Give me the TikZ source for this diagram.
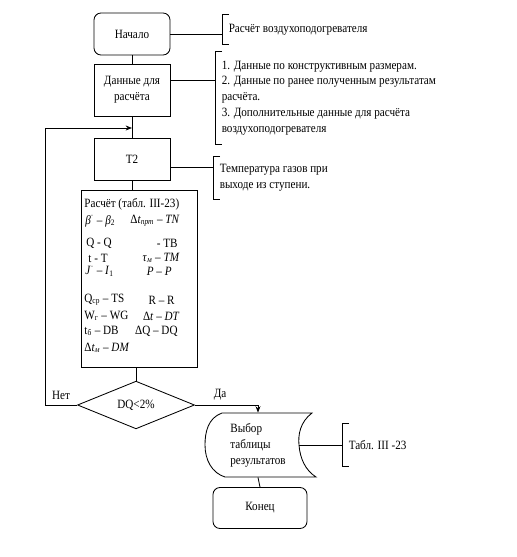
\documentclass[tikz,border=0pt]{standalone}
\usepackage{fontspec}
\setmainfont{Liberation Serif}[FakeStretch=0.88]
\usetikzlibrary{shapes.geometric,arrows.meta}

\begin{document}
\begin{tikzpicture}[x=0.025cm, y=-0.025cm, >={Stealth[length=4.5pt,width=3.5pt]},
  line width=0.6pt, font=\fontsize{9}{11.3}\selectfont,
  startstop/.style={draw, rounded corners=5pt, minimum width=1.9cm, minimum height=1.05cm, align=center},
  block/.style={draw, minimum width=1.9cm, minimum height=1.3cm, align=center},
  decision/.style={draw, diamond, minimum width=2.925cm, minimum height=1cm, inner sep=0pt},
  note/.style={anchor=west, align=left, inner xsep=4.5pt, inner ysep=0pt},
  item/.style={inner sep=0pt}]

  \useasboundingbox (0,0) rectangle (516,557);

  % --- 1. блоки алгоритма ---
  \node[startstop] (start) at (132,34) {Начало};
  \node[block] (data) at (132,90) {Данные для\\расчёта};
  \node[block, minimum height=1.05cm] (t2) at (132,159) {T2};
  \node[draw, minimum width=2.9cm, minimum height=4.425cm] (calc) at (139,278.5) {};
  \node[decision] (dq) at (136,405) {DQ<2\%};
  \node[minimum width=2.75cm, minimum height=1.6cm, align=left] (select) at (258,445)
    {Выбор\\таблицы\\результатов};
  \node[startstop, minimum width=2.35cm, minimum height=1.025cm] (end) at (260,508) {Конец};

  % блок "Выбор" (данные с вогнутой правой стороной)
  \draw (222,413) -- (312,413)
    .. controls (300,422) and (298,435) .. (299,445)
    .. controls (300,458) and (305,470) .. (316,477) -- (225,477)
    .. controls (212,473) and (205,460) .. (205,445)
    .. controls (205,432) and (208,418) .. (222,413);

  % --- 2. содержимое блока расчёта ---
  \node[item, anchor=west] (c0) at (84,204) {Расчёт (табл. III-23)};
  \node[item, anchor=west] (c1l) at (85,221) {\textit{β}\textsuperscript{·} – \textit{β}\textsubscript{2}};
  \node[item, anchor=east] (c1r) at (180,221) {Δ\textit{t}\textsubscript{\textit{прт}} – \textit{TN}};
  \node[item, anchor=west] (c2l) at (86,243) {Q - Q};
  \node[item, anchor=east] (c2r) at (178,243) {- TB};
  \node[item, anchor=west] (c3l) at (88,258) {t - T};
  \node[item, anchor=east] (c3r) at (180,258) {\textit{τ}\textsubscript{\textit{м}} – \textit{TM}};
  \node[item, anchor=west] (c4l) at (85,271) {\textit{J}\textsuperscript{·} – \textit{I}\textsubscript{1}};
  \node[item, anchor=east] (c4r) at (172,271) {\textit{P} – \textit{P}};
  \node[item, anchor=west] (c5l) at (84,300) {Q\textsubscript{ср} – TS};
  \node[item, anchor=east] (c5r) at (175,300) {R – R};
  \node[item, anchor=west] (c6l) at (84,316) {W\textsubscript{г} – WG};
  \node[item, anchor=east] (c6r) at (180,316) {Δ\textit{t} – \textit{DT}};
  \node[item, anchor=west] (c7l) at (84,331) {t\textsubscript{б} – DB};
  \node[item, anchor=east] (c7r) at (178,331) {ΔQ – DQ};
  \node[item, anchor=west] (c8l) at (84,348) {Δ\textit{t}\textsubscript{\textit{м}} – \textit{DM}};

  % --- 3. комментарии ---
  \node[note, minimum height=0.725cm] (n1) at (222,29.5) {Расчёт воздухоподогревателя};
  \node[note, minimum height=2.3cm] (n2) at (215,98)
    {1. Данные по конструктивным размерам.\\2. Данные по ранее полученным результатам\\расчёта.\\3. Дополнительные  данные для расчёта\\воздухоподогревателя};
  \node[note, minimum height=1.05cm] (n3) at (213,178) {Температура газов при\\выходе из ступени.};
  \node[note, minimum height=1.05cm] (n4) at (342,445) {Табл. III -23};
  \foreach \n in {n1,n2,n3,n4}
    \draw ([xshift=5pt]\n.north west) -| (\n.south west) -- ++(5pt,0);

  \draw (start.east) -- (start.east -| n1.west);
  \draw ([yshift=7pt]data.east) coordinate (d1) -- (d1 -| n2.west);
  \draw ([yshift=-5.7pt]t2.east) coordinate (d2) -- (d2 -| n3.west);
  \draw ([xshift=-10.6pt]select.east) -- (n4.west);

  % --- 4. связи ---
  \coordinate (loop) at (45,0);
  \coordinate (merge) at (132,128);
  \draw (start) -- (data);
  \draw (data) -- (t2);
  \draw (t2.south) -- (t2.south |- calc.north);
  \draw (dq.north |- calc.south) -- (dq.north);
  \draw[->] (dq.west) -- node[above] {Нет} (dq.west -| loop) |- (merge);
  \draw[->] (dq.east) -| node[above, pos=0.2] {Да} (select.north);
  \draw (select.south) -- (end.north);

\end{tikzpicture}
\end{document}
